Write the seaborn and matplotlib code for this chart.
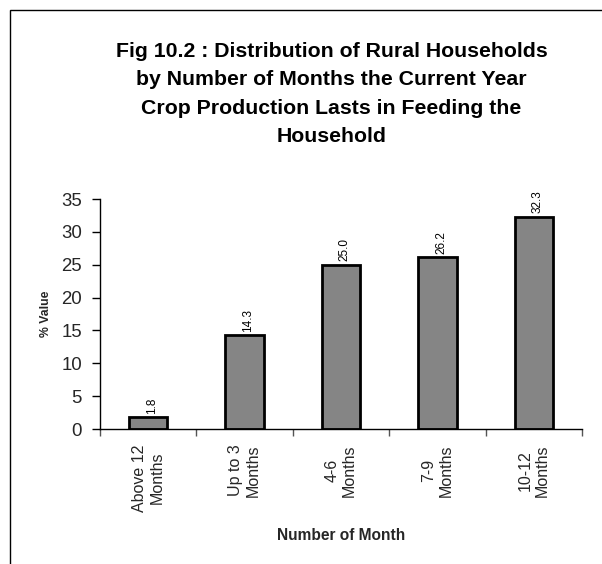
import matplotlib
matplotlib.use("Agg")
import matplotlib.pyplot as plt
from matplotlib.patches import Rectangle
import seaborn as sns
import pandas as pd

categories = ["Above 12\nMonths", "Up to 3\nMonths", "4-6\nMonths", "7-9\nMonths", "10-12\nMonths"]
values = [1.8, 14.3, 25.0, 26.2, 32.3]
yticks = [0, 5, 10, 15, 20, 25, 30, 35]
title_lines = ["Fig 10.2 : Distribution of Rural Households",
               "by Number of Months the Current Year",
               "Crop Production Lasts in Feeding the",
               "Household"]

sns.set_style("white")
plt.rcParams['font.family'] = ['Liberation Sans', 'DejaVu Sans']

W, H = 602, 564
fig = plt.figure(figsize=(W / 100, H / 100), dpi=100)
ax = fig.add_axes([100 / W, 1 - 429 / H, (582 - 100) / W, (429 - 199) / H])

df = pd.DataFrame({"cat": categories, "val": values})
sns.barplot(data=df, x="cat", y="val", color="#858585", saturation=1,
            edgecolor="black", linewidth=2.0, width=0.4, ax=ax)

ax.set_xlim(-0.5, len(categories) - 0.5)
ax.set_ylim(0, 35)
ax.set_yticks(yticks)
ax.set_yticklabels([str(t) for t in yticks], fontsize=13.4)
ax.tick_params(axis='y', direction='out', length=6, width=1, color='black', pad=7, left=True)

# ticks at category boundaries, labels at centers
ax.set_xticks([i - 0.5 for i in range(len(categories) + 1)])
ax.set_xticklabels([])
ax.set_xticks(list(range(len(categories))), minor=True)
ax.set_xticklabels(categories, minor=True, rotation=90, fontsize=11.5,
                   ha='center', va='top', multialignment='center')
ax.tick_params(axis='x', which='major', direction='out', length=5, width=1, color='#555555', bottom=True)
ax.tick_params(axis='x', which='minor', length=0, pad=11, bottom=True)

for s in ["top", "right"]:
    ax.spines[s].set_visible(False)
for s in ["left", "bottom"]:
    ax.spines[s].set_color("black")
    ax.spines[s].set_linewidth(1.0)

for i, v in enumerate(values):
    ax.text(i + 0.04, v + 0.5, f"{v:.1f}", rotation=90, ha='center', va='bottom',
            fontsize=8.5, color='black')

ax.set_xlabel("Number of Month", fontsize=11.2, fontweight='bold', labelpad=0)
ax.xaxis.set_label_coords(0.5, (429 - 535) / (429 - 199))
ax.set_ylabel("% Value", fontsize=8.8, fontweight='bold')
ax.yaxis.set_label_coords((46 - 100) / (582 - 100), 0.5)
ax.xaxis.label.set_va('center')
ax.yaxis.label.set_va('center')

baselines = [56.9, 85.4, 113.9, 142.4]
for line, b in zip(title_lines, baselines):
    fig.text(331.5 / W, 1 - b / H, line, ha='center', va='baseline', fontsize=15.3,
             fontweight='bold', color='black')

fig.patches.append(Rectangle((10 / W, -0.1), 1.2, (1 - 10 / H) + 0.1,
                             transform=fig.transFigure, fill=False,
                             edgecolor='black', linewidth=1.0))

fig.savefig("out.png", dpi=100)
